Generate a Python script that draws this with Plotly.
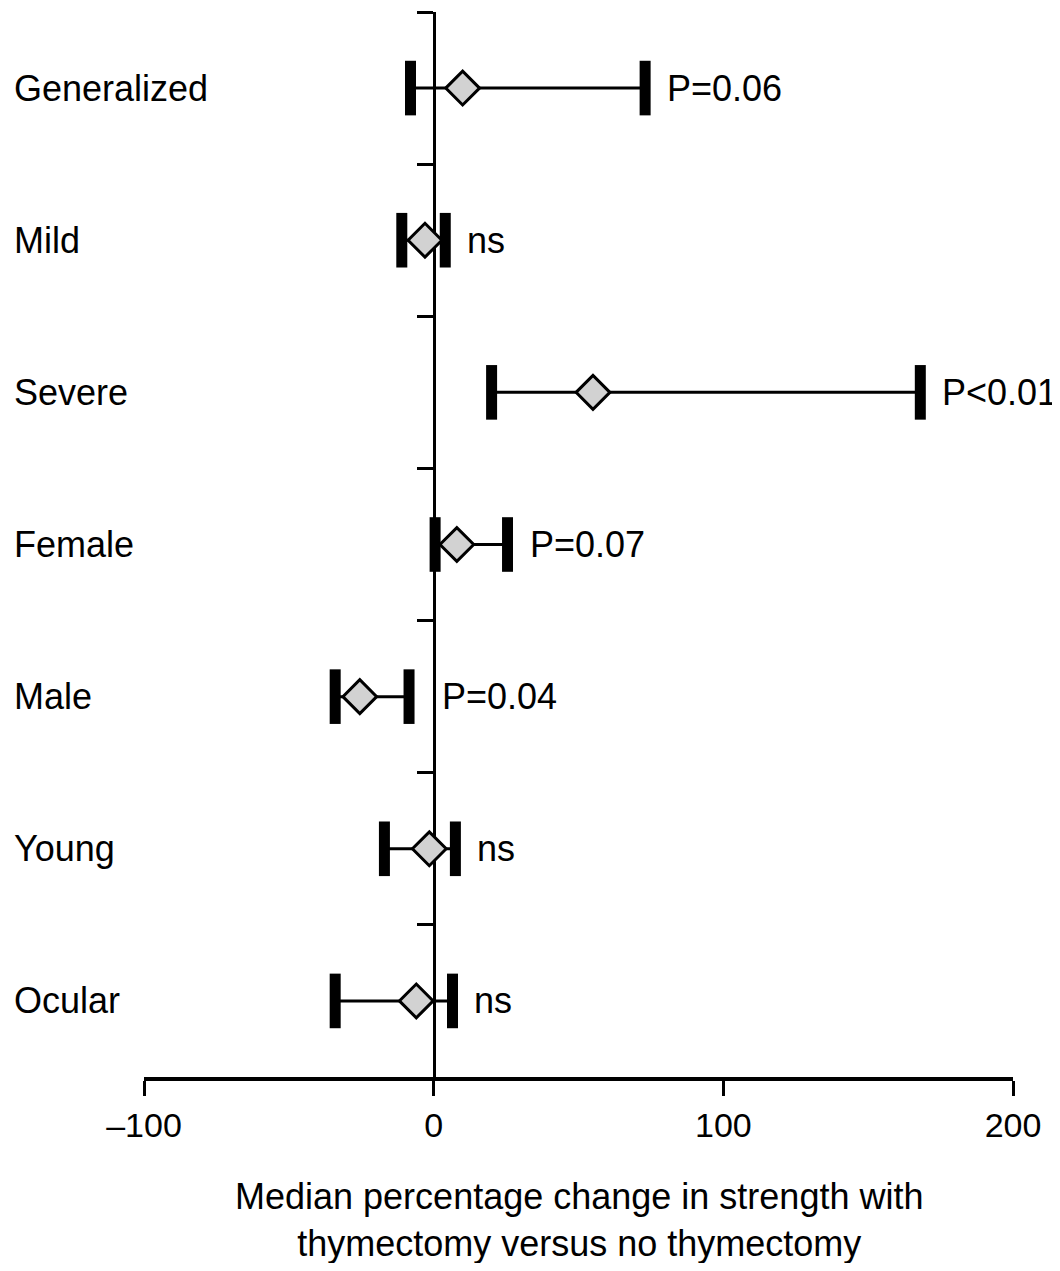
import plotly.graph_objects as go

# ---- data ----
groups = ["Generalized", "Mild", "Severe", "Female", "Male", "Young", "Ocular"]
median = [10, -3, 55, 8, -25.5, -1.5, -6]
lower = [-8, -11, 20, 0.5, -34, -17, -34]
upper = [73, 4, 168, 25.5, -8.5, 7.5, 6.5]
pvals = ["P=0.06", "ns", "P<0.01", "P=0.07", "P=0.04", "ns", "ns"]
x_ticks = [-100, 0, 100, 200]
x_ticktext = ["\u2013100", "0", "100", "200"]
x_title = "Median percentage change in strength with<br>thymectomy versus no thymectomy"

FONT = "Liberation Sans, Arial, Helvetica, sans-serif"

n = len(groups)
ypos = [n - 0.5 - i for i in range(n)]  # row centres, top to bottom

fig = go.Figure()

# whiskers
wx, wy = [], []
for lo, hi, y in zip(lower, upper, ypos):
    wx += [lo, hi, None]
    wy += [y, y, None]
fig.add_trace(go.Scatter(x=wx, y=wy, mode="lines",
                         line=dict(color="black", width=3),
                         hoverinfo="skip", showlegend=False))

# thick caps
fig.add_trace(go.Scatter(x=lower + upper, y=ypos + ypos, mode="markers",
                         marker=dict(symbol="line-ns", size=39,
                                     line=dict(color="black", width=11)),
                         hoverinfo="skip", showlegend=False))

# diamonds (medians)
fig.add_trace(go.Scatter(x=median, y=ypos, mode="markers",
                         marker=dict(symbol="diamond", size=26, color="#d2d2d2",
                                     line=dict(color="black", width=3)),
                         showlegend=False))

annotations = []
# group labels on the left
for g, y in zip(groups, ypos):
    annotations.append(dict(x=-0.152, xref="paper", y=y, yref="y", text=g,
                            showarrow=False, xanchor="left", yanchor="middle",
                            font=dict(family=FONT, size=36, color="black")))
# p-value labels
for p, hi, y in zip(pvals, upper, ypos):
    anchor = max(hi, 0)
    shift = 20 if hi > 0 else 6
    annotations.append(dict(x=anchor, xref="x", y=y, yref="y", text=p,
                            showarrow=False, xanchor="left", yanchor="middle",
                            xshift=shift,
                            font=dict(family=FONT, size=36, color="black")))
# x-axis title
annotations.append(dict(x=0.5, xref="paper", y=-0.1345, yref="paper", text=x_title,
                        showarrow=False, xanchor="center", yanchor="middle",
                        font=dict(family=FONT, size=36, color="black")))

W, H = 1052, 1255
fig.update_layout(
    width=W, height=H,
    margin=dict(l=136, r=47, t=4, b=186, pad=0),
    paper_bgcolor="white", plot_bgcolor="white",
    annotations=annotations,
    font=dict(family=FONT, color="black"),
    xaxis=dict(range=[-100, 200], tickvals=x_ticks, ticktext=x_ticktext,
               showline=True, linecolor="black", linewidth=4,
               ticks="outside", ticklen=15, tickwidth=3, tickcolor="black",
               tickfont=dict(family=FONT, size=34, color="black"),
               showgrid=False, zeroline=False, layer="below traces"),
    yaxis=dict(range=[0, n], tickvals=list(range(1, n + 1)), showticklabels=False,
               anchor="free", position=(0 - (-100)) / 300, side="left",
               showline=True, linecolor="black", linewidth=3,
               ticks="outside", ticklen=16, tickwidth=3, tickcolor="black",
               showgrid=False, zeroline=False, layer="below traces"),
)

fig.write_html("out.html")
